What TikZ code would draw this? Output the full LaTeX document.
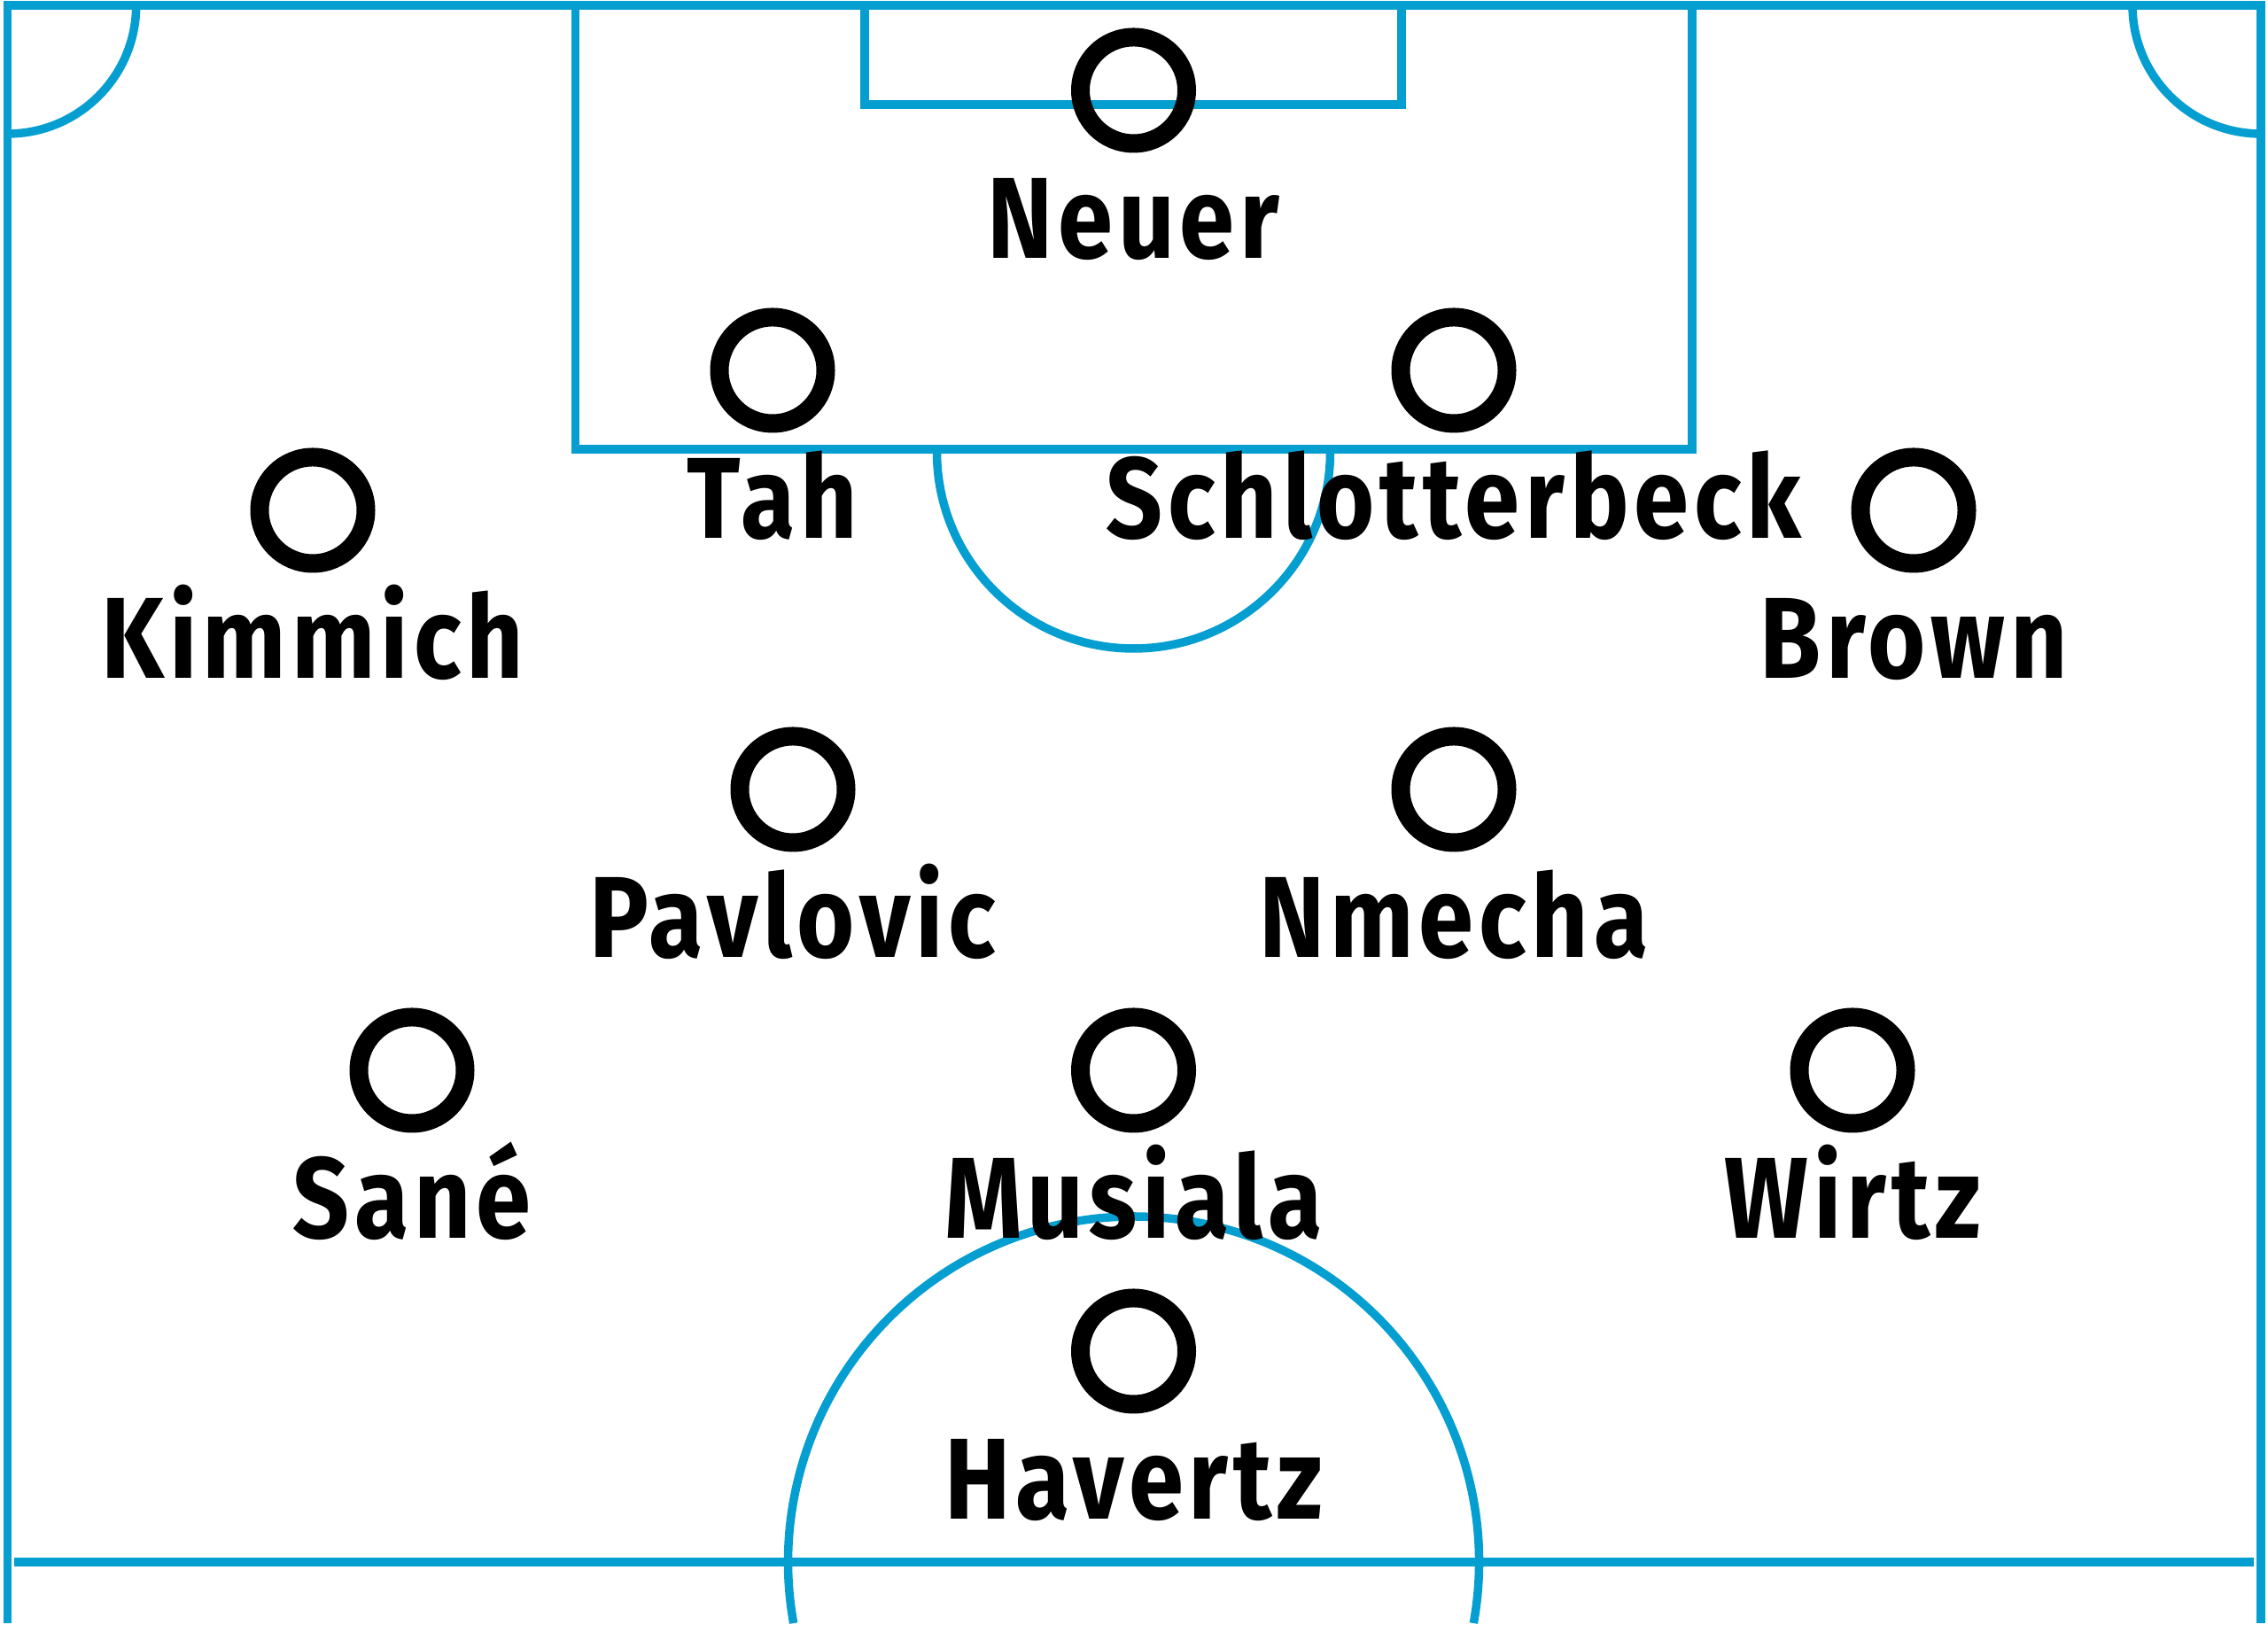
\documentclass[tikz,border=0pt]{standalone}
\usepackage{fontspec}
\setmainfont{Fira Sans}[FakeStretch=0.86,LetterSpace=4.5]
\usepackage{tikz}
\usetikzlibrary{positioning}
\definecolor{pitchblue}{RGB}{4,158,208}

\begin{document}
\begin{tikzpicture}[
        pitch/.style={draw=pitchblue,line width=0.095cm},
        player/.style={circle,draw=black,line width=0.21cm,minimum size=1.2cm,inner sep=0pt},
        playername/.style={font=\fontsize{37}{40}\selectfont\bfseries,inner sep=0pt}
    ]
        \useasboundingbox (0,0) rectangle (25.6,18.6);
        \draw[pitch] (0.087,0.28) -- (0.087,18.54) -- (25.52,18.54) -- (25.52,0.28);
        \draw[pitch] (0.16,0.97) -- (25.44,0.97);
        \draw[pitch] (0.087,17.09) arc (270:360:1.45);
        \draw[pitch] (24.07,18.54) arc (180:270:1.45);
        \draw[pitch] (6.495,18.54) -- (6.495,13.53) -- (19.10,13.53) -- (19.10,18.54);
        \draw[pitch] (9.76,18.54) -- (9.76,17.42) -- (15.82,17.42) -- (15.82,18.54);
        \draw[pitch] (10.575,13.50) arc (180:360:2.22);
        \draw[pitch] (12.795,0.97) ++(-10.2:3.9) arc (-10.2:190.2:3.9);

        \node[player] (neuer) at (12.795,17.58) {};
        \node[player] (tah) at (8.72,14.42) {};
        \node[player] (schlotterbeck) at (16.41,14.42) {};
        \node[player] (kimmich) at (3.53,12.84) {};
        \node[player] (brown) at (21.60,12.84) {};
        \node[player] (pavlovic) at (8.95,9.69) {};
        \node[player] (nmecha) at (16.41,9.69) {};
        \node[player] (sane) at (4.65,6.52) {};
        \node[player] (musiala) at (12.795,6.52) {};
        \node[player] (wirtz) at (20.91,6.52) {};
        \node[player] (havertz) at (12.795,3.35) {};

        \node[playername,below=1.9cm of neuer.center,anchor=base] (neuername) {Neuer};
        \node[playername,below=1.9cm of tah.center,anchor=base] (tahname) {Tah};
        \node[playername,below=1.9cm of schlotterbeck.center,anchor=base] (schlotterbeckname) {Schlotterbeck};
        \node[playername,below=1.9cm of kimmich.center,anchor=base] (kimmichname) {Kimmich};
        \node[playername,below=1.9cm of brown.center,anchor=base] (brownname) {Brown};
        \node[playername,below=1.9cm of pavlovic.center,anchor=base] (pavlovicname) {Pavlovic};
        \node[playername,below=1.9cm of nmecha.center,anchor=base] (nmechaname) {Nmecha};
        \node[playername,below=1.9cm of sane.center,anchor=base] (sanename) {Sané};
        \node[playername,below=1.9cm of musiala.center,anchor=base] (musialaname) {Musiala};
        \node[playername,below=1.9cm of wirtz.center,anchor=base] (wirtzname) {Wirtz};
        \node[playername,below=1.9cm of havertz.center,anchor=base] (havertzname) {Havertz};
    \end{tikzpicture}
\end{document}
